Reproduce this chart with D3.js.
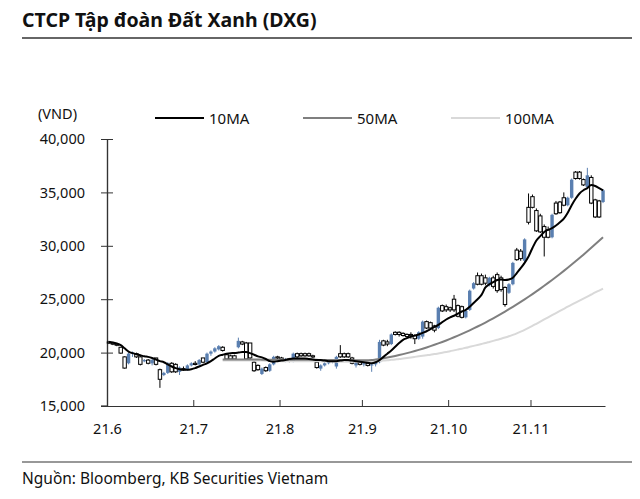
<!DOCTYPE html>
<html><head><meta charset="utf-8">
<script src="https://cdn.jsdelivr.net/npm/d3@7"></script>
<style>
html,body{margin:0;padding:0;background:#fff;}
svg text{font-family:"Noto Sans",sans-serif;}
</style></head>
<body><svg id="c" width="640" height="499"></svg>
<script>
const title = "CTCP Tập đoàn Đất Xanh (DXG)";
const source = "Nguồn: Bloomberg, KB Securities Vietnam";
const unitLabel = "(VND)";
const monthLabels = ["21.6","21.7","21.8","21.9","21.10","21.11"];
const monthStartIdx = [0,22,44,65,87,108];
const yTicks = [15000,20000,25000,30000,35000,40000];
const seriesNames = ["10MA","50MA","100MA"];
const seriesColors = ["#000000","#7f7f7f","#d9d9d9"];

const open  = [21000,20900,20800,20500,19600,19000,19900,19900,19600,19200,19300,19000,19500,18400,17900,18100,19000,18900,18200,18500,18400,18800,19000,18900,19500,19100,19900,20100,20300,20500,19800,19700,19700,20500,21000,20900,20900,19100,18800,18000,18600,18300,18900,19600,19500,19300,19400,19200,19900,19900,19900,19900,19700,19100,18500,18800,19000,19200,18700,19900,19900,19900,19500,18800,19100,18900,19000,18800,18900,19100,21100,21000,20800,21900,21900,21800,21700,21700,21600,21300,21500,22900,22800,22500,22300,24400,24300,24200,25000,24400,24300,23300,24000,26000,27200,27200,27000,26300,27000,27300,27000,26100,25600,26400,29600,29500,28600,33600,34600,33300,32800,31800,31500,30800,34000,34100,34500,33800,34500,36900,36900,36200,35500,36400,34300,34200,34100];
const high  = [21100,21000,20900,20500,19650,20000,20100,20000,19700,19400,19400,19400,19500,18500,18200,19100,19100,19000,18700,18700,18900,19100,19200,19400,19500,20000,20200,20500,20700,20600,19900,19800,19800,21400,21100,21000,20900,19200,18900,18600,18700,19000,19700,19700,19600,19500,19500,20000,20000,20000,20000,20000,19800,19200,18900,19100,19300,19400,19700,20700,20000,20000,19600,19200,19200,19100,19100,19000,19200,21200,21200,21200,21800,22000,22000,21900,21800,21900,21700,22000,23000,23000,22900,22600,24300,24500,24500,24300,25400,24500,24400,24000,25900,26600,27500,27400,27300,27100,27200,27500,27200,26200,26500,28500,29800,29700,30700,34900,34800,33500,33000,32000,31800,33000,34200,34200,35000,34600,36300,37000,37000,36300,37300,36600,34400,34300,35300];
const low   = [20800,20700,20600,19900,18500,18900,19600,19500,18800,19100,18900,18800,18800,16700,17800,18000,18100,18100,17900,18300,18300,18700,18800,18800,19000,19000,19700,20000,20200,20100,19300,19300,19300,20400,20700,19300,19300,18200,18300,17900,18200,18200,18800,19400,19200,19100,19100,19100,19500,19600,19600,19600,19500,18500,18300,18700,18900,19000,18500,19500,19500,19500,18900,18600,18800,18700,18700,18200,18700,19000,20600,20600,20700,21600,21500,21500,21400,21300,20800,21200,21300,22200,22200,21900,22200,23800,23800,23800,23800,23300,23200,23200,23900,25900,26300,26300,26300,26200,26000,25600,25700,24300,25500,26300,28600,28600,28400,32000,33500,31300,31200,29000,30700,30700,32900,33000,33700,33700,34400,36200,36200,35600,35400,33900,32600,32600,34000];
const close = [20900,20800,20700,19950,18550,19900,20000,19600,18900,19300,19000,19300,18900,17500,18100,19000,18200,18200,18600,18400,18800,19000,18900,19300,19100,19900,20100,20400,20600,20200,19400,19400,19400,21100,20800,19400,19500,18300,18400,18500,18300,18900,19600,19500,19300,19400,19200,19900,19600,19700,19700,19700,19600,18600,18800,19000,19200,19300,19600,19600,19600,19600,19000,19100,18900,19000,18800,18900,19100,21000,20700,20800,21700,21700,21700,21600,21500,21600,21300,21900,22900,22300,22300,22100,24200,23900,24000,24000,24000,23400,23300,23900,25800,26500,26400,26400,26500,27000,26200,25800,25900,24500,26400,28400,28700,28800,30600,32200,33600,31400,31300,30800,30800,32900,33000,33100,33800,34500,36200,36300,36300,35700,36600,34000,32700,32700,35200];

const ma10 = [21000,20950,20850,20700,20400,20100,19950,19850,19750,19650,19600,19500,19350,19200,19100,18900,18700,18550,18450,18400,18400,18450,18550,18700,18850,19000,19200,19450,19700,19800,19900,19950,19960,20000,20050,20050,19950,19800,19650,19550,19400,19200,19150,19200,19250,19300,19400,19450,19450,19450,19450,19400,19350,19300,19300,19250,19200,19200,19200,19250,19300,19300,19250,19200,19150,19100,19050,19000,19100,19300,19600,19900,20200,20550,20900,21200,21350,21500,21600,21700,21850,22000,22200,22400,22600,22850,23100,23300,23450,23650,23850,24000,24300,24650,25000,25400,26100,26400,26600,26800,26850,26800,26850,27000,27450,27900,28400,29000,29800,30500,30900,31300,31500,31650,31900,32200,32550,33100,33800,34400,34900,35200,35400,35700,35600,35400,35200];
const ma50 = [null,null,null,null,null,null,null,null,null,null,null,null,null,null,null,null,null,null,null,null,null,null,null,null,null,null,null,null,null,19350,19350,19350,19350,19350,19360,19360,19360,19350,19350,19340,19330,19320,19320,19320,19320,19320,19330,19330,19340,19340,19340,19340,19330,19320,19310,19300,19300,19300,19300,19300,19300,19290,19280,19280,19280,19280,19285,19300,19352,19410,19472,19539,19611,19688,19770,19857,19949,20046,20147,20254,20365,20482,20603,20729,20860,20996,21137,21283,21434,21589,21750,21916,22086,22261,22442,22627,22817,23012,23212,23417,23626,23841,24061,24285,24514,24749,24988,25232,25481,25735,25994,26258,26527,26800,27079,27362,27651,27944,28242,28545,28853,29166,29484,29807,30135,30468,30806];
const ma100 = [null,null,null,null,null,null,null,null,null,null,null,null,null,null,null,null,null,null,null,null,null,null,null,null,null,null,null,null,null,19250,19250,19250,19250,19250,19250,19250,19250,19250,19250,19250,19240,19230,19220,19210,19200,19200,19200,19200,19200,19200,19200,19200,19200,19190,19180,19170,19160,19150,19150,19150,19150,19150,19150,19150,19150,19150,19160,19180,19200,19220,19250,19280,19320,19360,19400,19450,19500,19550,19600,19650,19700,19750,19800,19860,19920,19990,20060,20130,20210,20290,20370,20450,20540,20630,20720,20810,20900,21000,21100,21200,21300,21410,21530,21660,21800,21960,22130,22310,22500,22700,22900,23100,23300,23500,23700,23900,24100,24300,24490,24680,24870,25060,25250,25440,25630,25810,25990,26170];

const svg = d3.select("#c");
const N = close.length;
const x = d3.scaleLinear().domain([0, N]).range([107, 605]);
const y = d3.scaleLinear().domain([15000, 40000]).range([406, 139]);

// title
svg.append("text").attr("x",22).attr("y",27).attr("font-size",19.5).attr("font-weight","bold").attr("fill","#111").text(title);
svg.append("line").attr("x1",22).attr("x2",632).attr("y1",38).attr("y2",38).attr("stroke","#333").attr("stroke-width",1.5);

// unit label
svg.append("text").attr("x",38).attr("y",119).attr("font-size",14.5).attr("fill","#111").text(unitLabel);

// legend
const legX = [155,303,451];
seriesNames.forEach((n,k)=>{
  svg.append("line").attr("x1",legX[k]).attr("x2",legX[k]+49).attr("y1",118).attr("y2",118)
    .attr("stroke",seriesColors[k]).attr("stroke-width",2);
  svg.append("text").attr("x",legX[k]+54).attr("y",123.5).attr("font-size",15).attr("fill","#111").text(n);
});

// y axis
svg.append("g").attr("transform","translate(107,0)")
  .call(d3.axisLeft(y).tickValues(yTicks).tickFormat(d3.format(",")).tickSizeInner(6).tickSizeOuter(0).tickPadding(16));
svg.append("g").attr("transform","translate(107,0)")
  .call(d3.axisLeft(y).tickValues(yTicks).tickFormat("").tickSizeInner(-6).tickSizeOuter(0));
// x axis
svg.append("g").attr("transform","translate(0,406)")
  .call(d3.axisBottom(x).tickValues(monthStartIdx).tickFormat((d,i)=>monthLabels[i]).tickSizeInner(-6).tickSizeOuter(0).tickPadding(18));
svg.selectAll(".domain").attr("stroke","#333").attr("stroke-width",1.2);
svg.selectAll(".tick line").attr("stroke","#333");
svg.selectAll(".tick text").attr("font-size",14.5).attr("fill","#111").attr("font-family","Noto Sans");
svg.append("line").attr("x1",101).attr("x2",107).attr("y1",406).attr("y2",406).attr("stroke","#333").attr("stroke-width",1.2);

// candles
const idx = d3.range(N);
const cw = 3.4;
const blue = "#5a7fb0";
const g = svg.append("g");
idx.forEach(i=>{
  const up = close[i] >= open[i];
  const cx = x(i+0.5);
  g.append("line").attr("x1",cx).attr("x2",cx).attr("y1",y(high[i])).attr("y2",y(low[i]))
    .attr("stroke", up ? blue : "#000").attr("stroke-width",1);
  const top = y(Math.max(open[i],close[i])), bot = y(Math.min(open[i],close[i]));
  g.append("rect").attr("x",cx-cw/2).attr("y",top).attr("width",cw).attr("height",Math.max(1.2,bot-top))
    .attr("fill", up ? blue : "#fff").attr("stroke", up ? "none" : "#000").attr("stroke-width",1);
});

// moving averages
const mas = [ma10, ma50, ma100];
[2,1,0].forEach(k=>{
  const line = d3.line().defined(i=>mas[k][i]!==null).x(i=>x(i+0.5)).y(i=>y(mas[k][i])).curve(d3.curveMonotoneX);
  svg.append("path").attr("d",line(idx)).attr("fill","none").attr("stroke",seriesColors[k]).attr("stroke-width",2);
});

// source
svg.append("line").attr("x1",22).attr("x2",632).attr("y1",462).attr("y2",462).attr("stroke","#333").attr("stroke-width",1.2);
svg.append("text").attr("x",22).attr("y",484).attr("font-size",15.5).attr("fill","#111").text(source);
</script></body></html>
